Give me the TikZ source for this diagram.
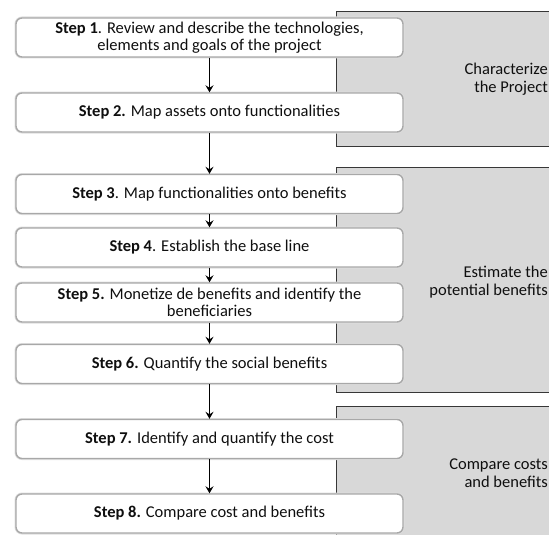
\documentclass[tikz,border=0pt]{standalone}
\usepackage{fontspec}
\setmainfont{Carlito}
\usetikzlibrary{arrows.meta}
\definecolor{panelfill}{RGB}{216,216,216}
\definecolor{boxline}{RGB}{168,168,168}
\definecolor{boxhalo}{RGB}{222,222,222}
\definecolor{panelline}{RGB}{55,55,55}
\definecolor{txt}{RGB}{15,15,15}
\begin{document}
\begin{tikzpicture}[x=1pt,y=-1pt,
  stepbox/.style={draw=boxline, line width=1.4pt, fill=white, rounded corners=6pt,
    minimum width=387pt, minimum height=39pt, align=center, inner sep=0pt, text=txt,
    font=\fontsize{16.5}{17}\selectfont,
    preaction={draw=boxhalo, line width=3pt}},
  panel/.style={fill=panelfill, draw=panelline, line width=0.9pt, anchor=north west,
    minimum width=240pt, inner sep=0pt},
  phase/.style={anchor=east, align=right, inner sep=0pt, text=txt, font=\fontsize{16.5}{18.5}\selectfont},
  flow/.style={-{Stealth[length=7pt,width=8pt,inset=2.5pt]}, line width=1.5pt, black}]
\useasboundingbox (0,0) rectangle (549,535);
\clip (0,0) rectangle (549,535);
% phase panels
\node[panel, minimum height=134.5pt] (pan1) at (336,11.5) {};
\node[panel, minimum height=225pt] (pan2) at (336,167) {};
\node[panel, minimum height=150pt] (pan3) at (336,406) {};
\node[phase] (lab1) at (548,79) {Characterize\\the Project};
\node[phase] (lab2) at (548,282) {Estimate the\\potential benefits};
\node[phase] (lab3) at (548,473) {Compare costs\\and benefits};
% steps
\node[stepbox] (s1) at (209.5,37.5) {\textbf{Step 1}. Review and describe the technologies,\\elements and goals of the project};
\node[stepbox] (s2) at (209.5,112.5) {\textbf{Step 2.} Map assets onto functionalities};
\node[stepbox] (s3) at (209.5,194) {\textbf{Step 3}. Map functionalities onto benefits};
\node[stepbox] (s4) at (209.5,247.5) {\textbf{Step 4}. Establish the base line};
\node[stepbox] (s5) at (209.5,302.5) {\textbf{Step 5.} Monetize de benefits and identify the\\beneficiaries};
\node[stepbox] (s6) at (209.5,364) {\textbf{Step 6.} Quantify the social benefits};
\node[stepbox] (s7) at (209.5,439) {\textbf{Step 7.} Identify and quantify the cost};
\node[stepbox] (s8) at (209.5,513.5) {\textbf{Step 8.} Compare cost and benefits};
% connectors
\draw[flow] (s1) -- (s2);
\draw[flow] (s2) -- (s3);
\draw[flow] (s3) -- (s4);
\draw[flow] (s4) -- (s5);
\draw[flow] (s5) -- (s6);
\draw[flow] (s6) -- (s7);
\draw[flow] (s7) -- (s8);
\end{tikzpicture}
\end{document}
